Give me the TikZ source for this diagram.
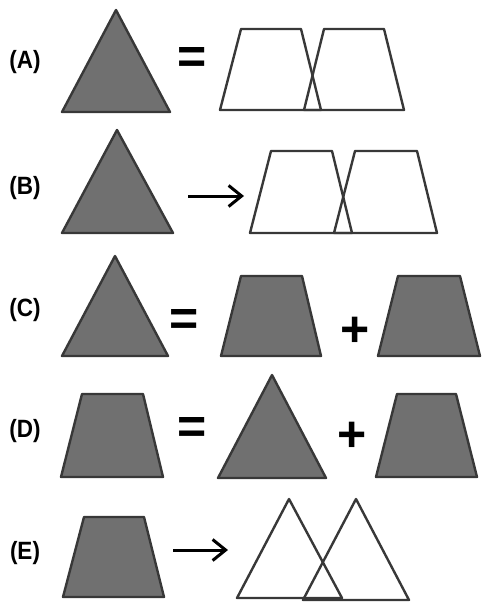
\documentclass[tikz,border=0pt]{standalone}
\usepackage{fontspec}
\setmainfont{Liberation Sans}
\newfontfamily\lblfont[FakeStretch=0.9]{Liberation Sans}
\usetikzlibrary{arrows.meta}
\definecolor{shapefill}{HTML}{707070}
\definecolor{shapeedge}{HTML}{383838}

\begin{document}
\begin{tikzpicture}[
    x=1pt, y=-1pt,
    solid/.style={draw=shapeedge, fill=shapefill, line width=2.4pt, line join=round},
    hollow/.style={draw=shapeedge, line width=2.4pt, line join=round},
    lbl/.style={font=\lblfont\fontsize{25}{25}\selectfont\bfseries, inner sep=0pt},
    op/.style={font=\fontsize{50}{50}\selectfont\bfseries, inner sep=0pt},
    arr/.style={-{Straight Barb[length=13pt, width=21pt, line width=3pt]}, line width=3pt},
]
\useasboundingbox (0,0) rectangle (482,604);

% row A
\node[lbl] (labA) at (25,62) {(A)};
\draw[solid] (62,112) -- (116,10) -- (170,112) -- cycle;
\node[op] (eqA) at (192,61) {=};
\draw[hollow] (220,110) -- (241,29) -- (301,29) -- (321,110) -- cycle;
\draw[hollow] (304,110) -- (324,29) -- (384,29) -- (404,110) -- cycle;

% row B
\node[lbl] (labB) at (25,188) {(B)};
\draw[solid] (62,233) -- (117,130) -- (173,233) -- cycle;
\coordinate (arrB1) at (188,196);
\coordinate (arrB2) at (244,196);
\draw[arr] (arrB1) -- (arrB2);
\draw[hollow] (250,233) -- (271,151) -- (332,151) -- (352,233) -- cycle;
\draw[hollow] (334,233) -- (355,151) -- (417,151) -- (437,233) -- cycle;

% row C
\node[lbl] (labC) at (25,310) {(C)};
\draw[solid] (62,356) -- (115,256) -- (168,356) -- cycle;
\node[op] (eqC) at (184,322) {=};
\draw[solid] (221,356) -- (241,276) -- (302,276) -- (321,356) -- cycle;
\node[op] (plusC) at (355,332) {+};
\draw[solid] (378,356) -- (398,276) -- (460,276) -- (480,356) -- cycle;

% row D
\node[lbl] (labD) at (25,431) {(D)};
\draw[solid] (61,477) -- (82,394) -- (143,394) -- (163,477) -- cycle;
\node[op] (eqD) at (192,430) {=};
\draw[solid] (218,478) -- (272,375) -- (326,478) -- cycle;
\node[op] (plusD) at (352,437) {+};
\draw[solid] (376,477) -- (397,394) -- (456,394) -- (477,477) -- cycle;

% row E
\node[lbl] (labE) at (25,553) {(E)};
\draw[solid] (63,597) -- (84,517) -- (144,517) -- (164,597) -- cycle;
\coordinate (arrE1) at (173,550);
\coordinate (arrE2) at (228,550);
\draw[arr] (arrE1) -- (arrE2);
\draw[hollow] (237,598) -- (289,499) -- (342,598) -- cycle;
\draw[hollow] (303,600) -- (356,499) -- (409,600) -- cycle;
\end{tikzpicture}
\end{document}
